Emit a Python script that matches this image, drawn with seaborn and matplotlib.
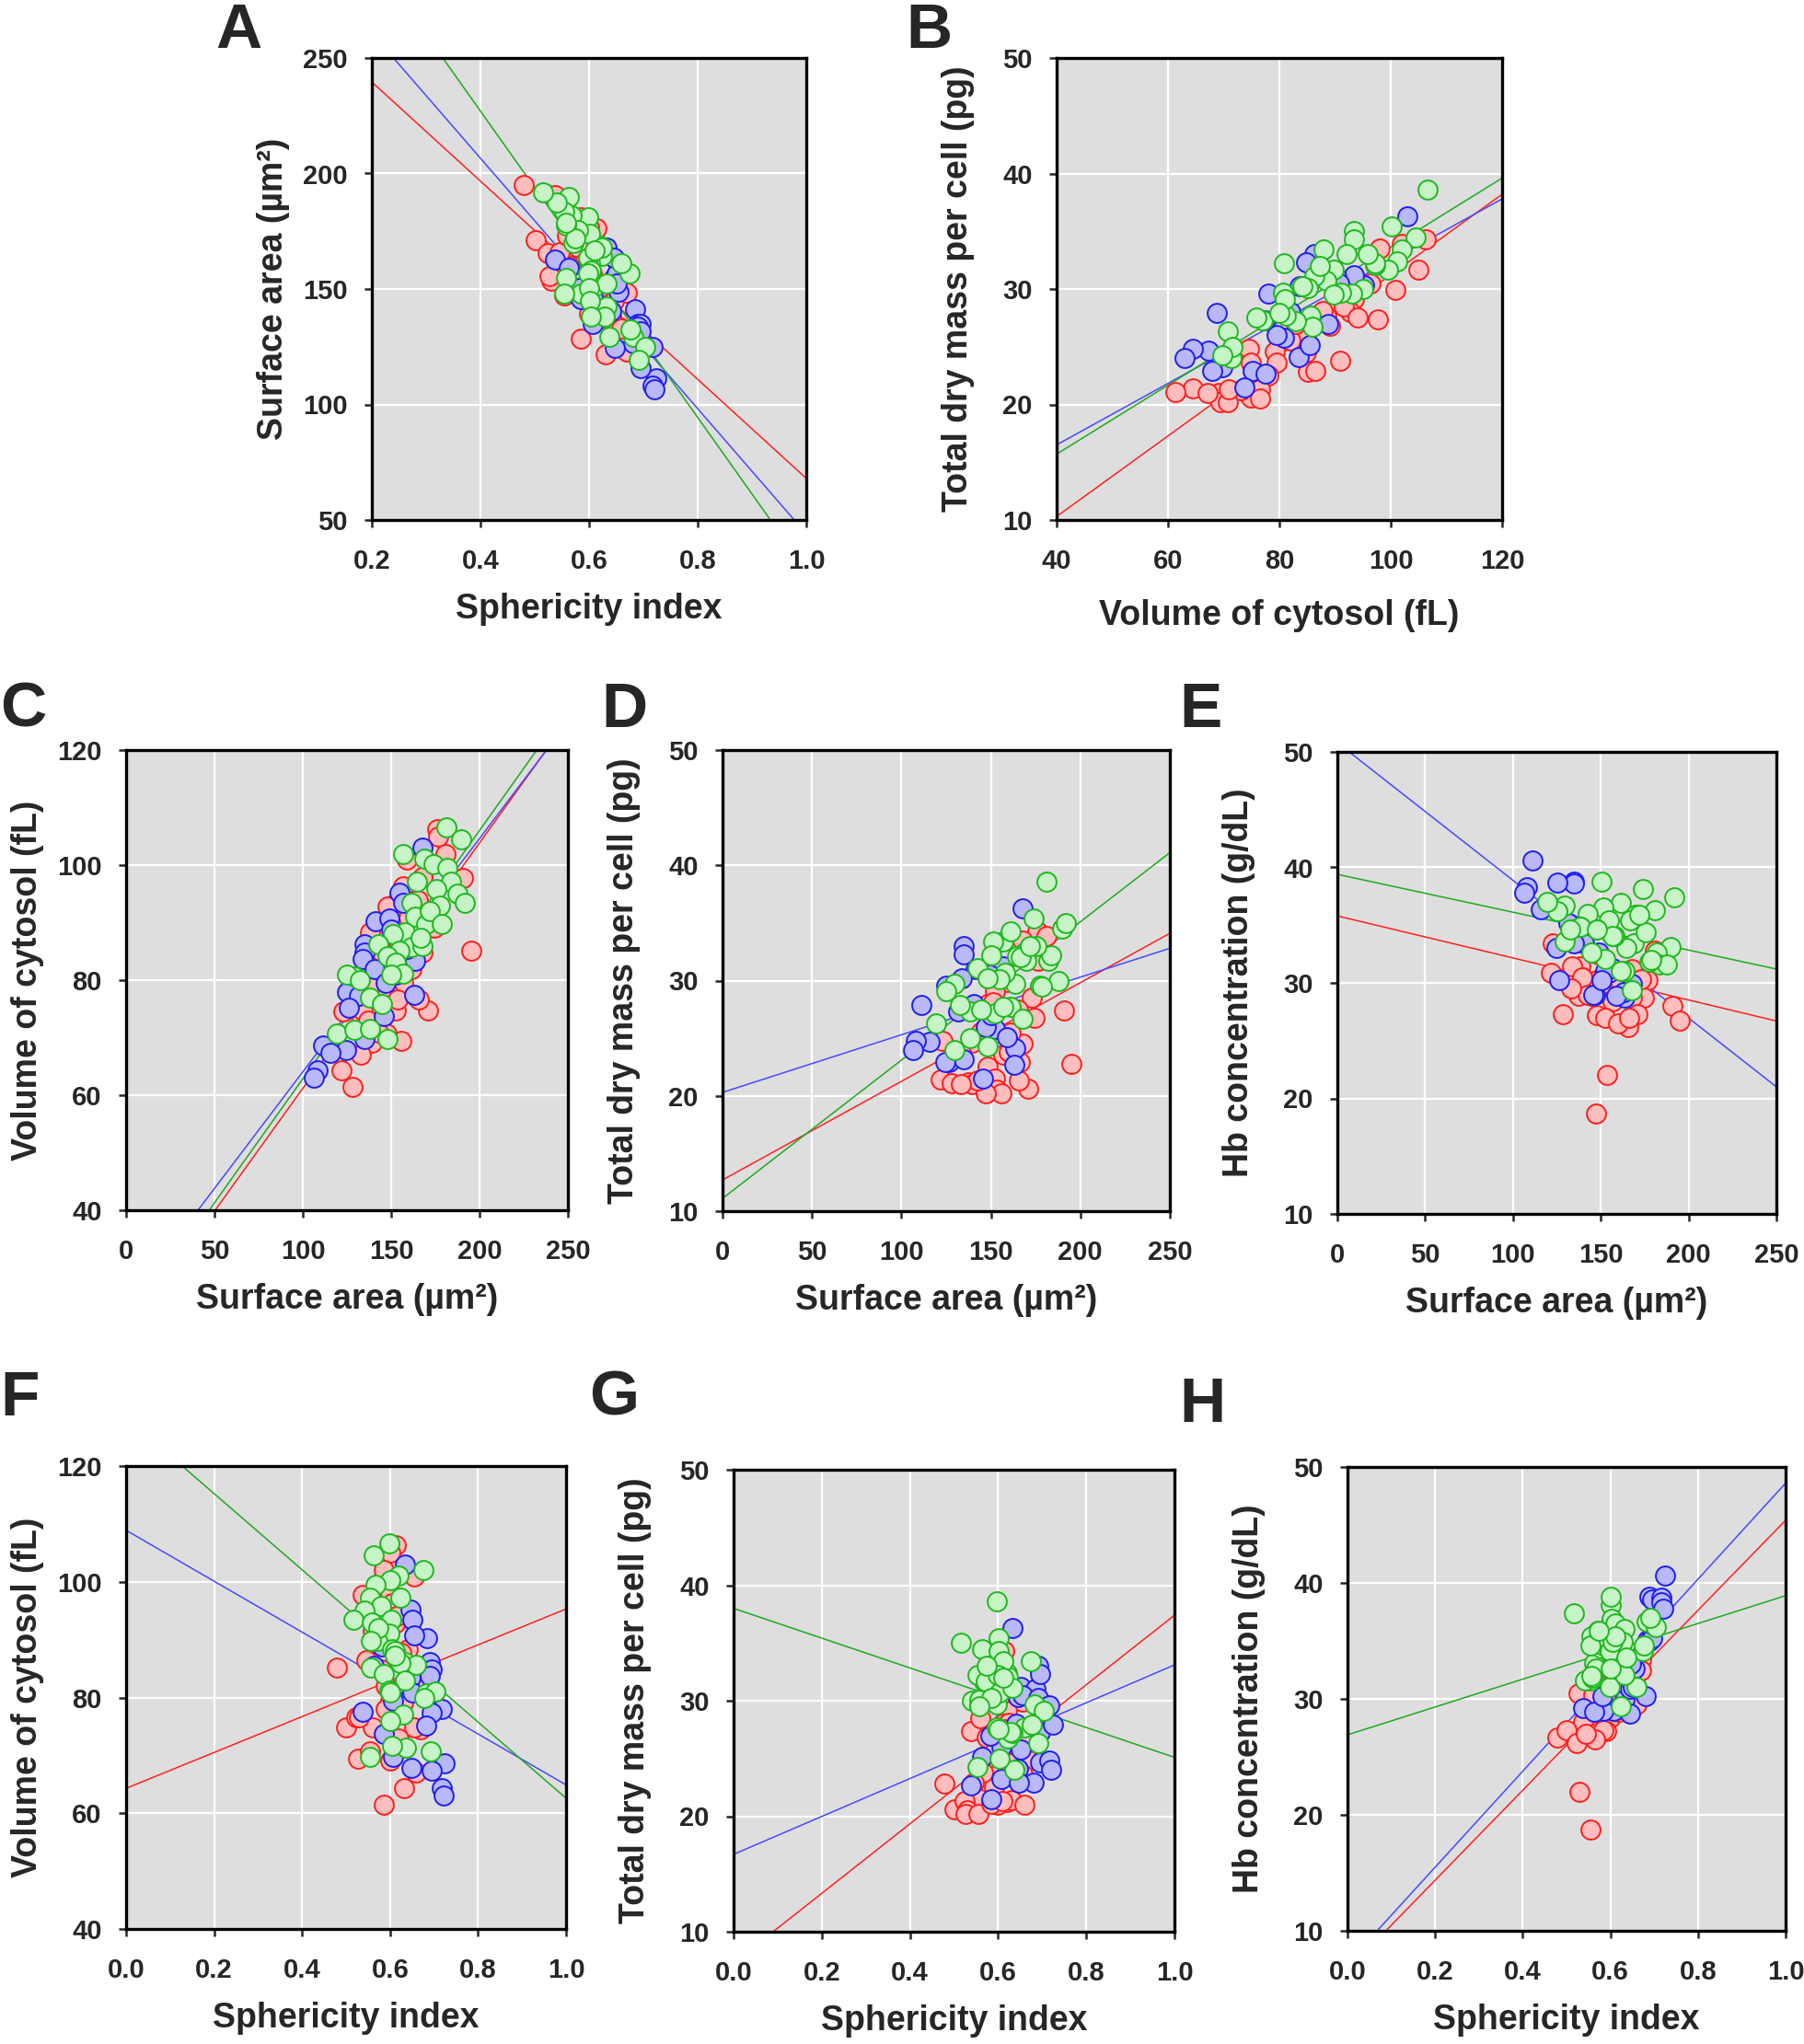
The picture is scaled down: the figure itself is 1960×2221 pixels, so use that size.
import numpy as np
import pandas as pd
import matplotlib
matplotlib.use("Agg")
import matplotlib.pyplot as plt
import seaborn as sns

# ---------------- data ----------------
# Red group: per cell values
RED_S  = [0.613, 0.600, 0.655, 0.585, 0.538, 0.600, 0.620, 0.610, 0.605, 0.575,
          0.640, 0.625, 0.645, 0.479, 0.580, 0.630, 0.600, 0.590, 0.670, 0.655,
          0.560, 0.501, 0.523, 0.530, 0.620, 0.600, 0.527, 0.555, 0.631, 0.585,
          0.610, 0.590, 0.670, 0.565, 0.545, 0.660, 0.560, 0.615]
RED_SA = [176.1, 176.5, 159.0, 180.9, 190.8, 167.8, 152.4, 148.0, 156.8, 174.3,
          138.2, 151.3, 144.7, 195.2, 167.8, 139.3, 156.8, 148.0, 122.8, 133.8,
          152.4, 171.0, 165.6, 153.5, 137.1, 139.3, 155.7, 147.3, 121.7, 128.3,
          142.5, 161.2, 148.5, 160.0, 166.0, 133.0, 173.0, 165.0]
RED_V  = [106.3, 105.0, 100.9, 102.0, 97.7, 98.0, 93.4, 92.8, 96.3, 89.1,
          88.4, 87.7, 84.8, 85.2, 84.8, 79.1, 79.5, 78.0, 74.5, 74.8,
          74.8, 74.8, 76.6, 76.6, 73.0, 69.1, 69.5, 70.7, 64.4, 61.4,
          70.9, 82.0, 83.0, 90.9, 86.5, 67.1, 91.5, 94.0]
RED_M  = [34.3, 31.7, 29.9, 33.9, 27.4, 33.5, 29.1, 28.0, 30.5, 26.8,
          27.6, 28.1, 25.6, 22.8, 24.5, 24.6, 23.6, 22.5, 24.8, 23.6,
          21.5, 20.6, 21.3, 20.5, 21.2, 21.0, 20.2, 20.2, 21.4, 21.1,
          21.3, 25.5, 27.0, 23.8, 22.9, 21.0, 28.5, 27.5]
RED_HB = [31.0, 30.2, 29.6, 32.8, 28.0, 31.2, 30.0, 30.2, 31.2, 28.7,
          31.4, 30.5, 28.9, 26.7, 28.7, 30.5, 28.4, 27.2, 33.4, 31.4,
          27.0, 27.3, 26.2, 22.0, 28.9, 30.5, 30.5, 18.7, 30.9, 27.3,
          29.0, 30.0, 32.5, 26.5, 27.0, 29.5, 30.3, 29.2]

# Blue group
BLUE_S  = [0.633, 0.646, 0.651, 0.684, 0.655, 0.690, 0.695, 0.690, 0.640, 0.646,
           0.651, 0.607, 0.717, 0.695, 0.681, 0.538, 0.585, 0.607, 0.724, 0.648,
           0.695, 0.717, 0.721, 0.563, 0.582]
BLUE_SA = [167.8, 154.6, 156.8, 141.4, 149.0, 134.9, 134.9, 133.8, 140.4, 163.4,
           152.4, 146.9, 125.0, 131.6, 126.3, 162.9, 145.8, 134.9, 111.2, 124.6,
           115.6, 108.1, 106.4, 159.0, 150.2]
BLUE_V  = [103.0, 95.2, 93.4, 90.2, 90.7, 86.2, 84.8, 83.7, 82.0, 83.4,
           80.9, 79.5, 78.0, 77.3, 75.2, 77.5, 73.7, 69.8, 68.7, 67.9,
           67.3, 64.4, 63.0, 85.5, 88.8]
BLUE_M  = [36.3, 30.3, 31.2, 31.0, 30.5, 33.0, 32.3, 30.2, 28.0, 24.1,
           25.8, 26.0, 29.6, 27.3, 22.9, 22.7, 21.5, 23.2, 27.9, 22.9,
           24.7, 24.8, 24.0, 25.1, 27.0]
BLUE_HB = [29.9, 30.9, 31.3, 35.1, 32.6, 38.8, 38.6, 35.0, 33.4, 28.7,
           31.0, 29.0, 38.7, 35.2, 30.2, 29.2, 29.0, 33.4, 40.6, 33.0,
           36.4, 38.3, 37.8, 28.9, 30.2]

# Green group
GREEN_S  = [0.598, 0.563, 0.675, 0.620, 0.601, 0.567, 0.623, 0.554, 0.580, 0.541,
            0.516, 0.558, 0.602, 0.598, 0.572, 0.604, 0.611, 0.633, 0.660, 0.623,
            0.557, 0.585, 0.633, 0.598, 0.600, 0.682, 0.703, 0.629, 0.601, 0.692,
            0.637, 0.604, 0.554, 0.611, 0.574, 0.557, 0.677]
GREEN_SA = [181.0, 189.7, 156.8, 168.9, 173.9, 182.0, 164.5, 183.6, 175.4, 187.5,
            191.9, 177.6, 161.2, 163.4, 170.0, 158.0, 151.3, 142.5, 161.2, 167.8,
            154.6, 148.0, 152.4, 156.8, 150.2, 129.4, 125.0, 138.2, 144.7, 119.5,
            129.4, 138.2, 148.0, 166.7, 172.0, 178.7, 132.5]
GREEN_V  = [106.6, 104.5, 102.0, 101.1, 100.2, 99.5, 97.2, 97.2, 95.9, 95.0,
            93.4, 93.0, 93.4, 91.0, 89.8, 88.4, 88.0, 86.2, 85.7, 85.9,
            85.2, 84.1, 83.0, 81.2, 80.9, 80.7, 81.0, 77.0, 75.9, 70.7,
            71.4, 71.6, 69.8, 87.3, 92.0, 89.8, 80.0]
GREEN_M  = [38.6, 34.5, 33.4, 32.4, 35.4, 31.7, 32.1, 32.2, 33.0, 30.0,
            35.0, 29.6, 34.3, 29.7, 31.7, 30.7, 33.4, 31.1, 27.7, 26.7,
            30.1, 30.2, 27.2, 27.7, 32.2, 29.7, 29.1, 27.3, 27.5, 26.3,
            24.0, 25.0, 24.3, 32.0, 33.0, 29.5, 27.9]
GREEN_HB = [36.3, 33.1, 34.1, 33.4, 38.1, 32.6, 33.0, 31.6, 34.4, 31.6,
            37.4, 31.8, 36.9, 31.0, 35.9, 34.1, 36.5, 36.0, 31.0, 29.4,
            35.4, 34.6, 32.1, 34.1, 38.8, 36.7, 36.2, 34.9, 32.6, 37.0,
            33.6, 34.9, 34.6, 35.4, 35.9, 32.0, 34.6]

# regression lines: value at the left and right x-limits, per panel, order red, blue, green
LINE_A = [[239.6, 68.0], [260.8, 44.0], [293.3, 28.1]]
LINE_B = [[10.3, 38.2], [16.5, 37.8], [15.7, 39.6]]
LINE_C = [[18.5, 125.2], [23.5, 124.9], [19.7, 127.6]]
LINE_D = [[12.7, 34.1], [20.3, 32.8], [11.1, 41.1]]
LINE_E = [[35.8, 26.7], [50.8, 21.0], [39.4, 31.2]]
LINE_F = [[64.3, 95.3], [108.9, 64.9], [128.4, 62.6]]
LINE_G = [[7.3, 37.4], [16.7, 33.1], [38.0, 25.1]]
LINE_H = [[6.6, 45.4], [7.2, 48.6], [26.9, 38.9]]

LBL_SPH = "Sphericity index"
LBL_SA = "Surface area (µm²)"
LBL_V = "Volume of cytosol (fL)"
LBL_M = "Total dry mass per cell (pg)"
LBL_HB = "Hb concentration (g/dL)"

# ---------------- assemble ----------------
groups = ["red", "blue", "green"]
frames = []
for g, S, SA, V, M, HB in [("red", RED_S, RED_SA, RED_V, RED_M, RED_HB),
                           ("blue", BLUE_S, BLUE_SA, BLUE_V, BLUE_M, BLUE_HB),
                           ("green", GREEN_S, GREEN_SA, GREEN_V, GREEN_M, GREEN_HB)]:
    frames.append(pd.DataFrame({"grp": g, "S": S, "SA": SA, "V": V, "M": M, "HB": HB}))
df = pd.concat(frames, ignore_index=True)

FACE = {"red": "#FFBDBD", "blue": "#B8B8FA", "green": "#C6F4C6"}
EDGE = {"red": "#FF1E1E", "blue": "#1E1EF0", "green": "#1EB81E"}
LINEC = {"red": "#FF2020", "blue": "#4848FF", "green": "#20A820"}

sns.set_style("ticks")
plt.rcParams["font.family"] = ["Liberation Sans", "DejaVu Sans"]
plt.rcParams["font.weight"] = "bold"
plt.rcParams["axes.labelweight"] = "bold"

W, H = 1960, 2221
fig = plt.figure(figsize=(W / 100, H / 100), dpi=100)

def rect(l, r, t, b):
    return [l / W, 1 - b / H, (r - l) / W, (b - t) / H]

panels = [
    ("A", "S", "SA", (0.2, 1.0), [0.2, 0.4, 0.6, 0.8, 1.0], (50, 250), [50, 100, 150, 200, 250],
     LBL_SPH, LBL_SA, (404, 876, 63, 565), LINE_A, (234, 2)),
    ("B", "V", "M", (40, 120), [40, 60, 80, 100, 120], (10, 50), [10, 20, 30, 40, 50],
     LBL_V, LBL_M, (1148, 1632, 63, 565), LINE_B, (984, 2)),
    ("C", "SA", "V", (0, 250), [0, 50, 100, 150, 200, 250], (40, 120), [40, 60, 80, 100, 120],
     LBL_SA, LBL_V, (137, 617, 815, 1315), LINE_C, (0, 740)),
    ("D", "SA", "M", (0, 250), [0, 50, 100, 150, 200, 250], (10, 50), [10, 20, 30, 40, 50],
     LBL_SA, LBL_M, (785, 1271, 815, 1316), LINE_D, (653, 740)),
    ("E", "SA", "HB", (0, 250), [0, 50, 100, 150, 200, 250], (10, 50), [10, 20, 30, 40, 50],
     LBL_SA, LBL_HB, (1453, 1930, 817, 1319), LINE_E, (1281, 740)),
    ("F", "S", "V", (0.0, 1.0), [0.0, 0.2, 0.4, 0.6, 0.8, 1.0], (40, 120), [40, 60, 80, 100, 120],
     LBL_SPH, LBL_V, (137, 615, 1593, 2096), LINE_F, (0, 1488)),
    ("G", "S", "M", (0.0, 1.0), [0.0, 0.2, 0.4, 0.6, 0.8, 1.0], (10, 50), [10, 20, 30, 40, 50],
     LBL_SPH, LBL_M, (797, 1276, 1597, 2099), LINE_G, (640, 1488)),
    ("H", "S", "HB", (0.0, 1.0), [0.0, 0.2, 0.4, 0.6, 0.8, 1.0], (10, 50), [10, 20, 30, 40, 50],
     LBL_SPH, LBL_HB, (1464, 1940, 1594, 2098), LINE_H, (1281, 1495)),
]

for (letter, xc, yc, xlim, xticks, ylim, yticks, xlabel, ylabel, px, lines, lpos) in panels:
    l, r, t, b = px
    ax = fig.add_axes(rect(l, r, t, b))
    ax.set_facecolor("#DEDEDE")
    ax.set_axisbelow(True)
    ax.grid(True, color="white", linewidth=1.6)

    for g, (y0, y1) in zip(groups, lines):
        sns.lineplot(x=[xlim[0], xlim[1]], y=[y0, y1], ax=ax, color=LINEC[g],
                     linewidth=1.1, zorder=2, sort=False)
    for g in groups:
        sub = df[df["grp"] == g]
        sns.scatterplot(data=sub, x=xc, y=yc, ax=ax, color=FACE[g], edgecolor=EDGE[g],
                        s=225, linewidth=1.4, zorder=3, legend=False)

    ax.set_xlim(*xlim)
    ax.set_ylim(*ylim)
    ax.set_xticks(xticks)
    ax.set_yticks(yticks)
    if isinstance(xticks[0], float):
        ax.set_xticklabels([f"{v:.1f}" for v in xticks])
    else:
        ax.set_xticklabels([str(v) for v in xticks])
    ax.set_yticklabels([str(v) for v in yticks])
    ax.tick_params(axis="both", direction="out", length=6, width=1.8,
                   labelsize=21, top=False, right=False)
    ax.tick_params(axis="x", pad=16)
    ax.tick_params(axis="y", pad=13)
    for sp in ax.spines.values():
        sp.set_linewidth(2.4)
        sp.set_color("black")
    ax.set_xlabel(xlabel, fontsize=27, fontweight="bold")
    ax.set_ylabel(ylabel, fontsize=27, fontweight="bold")
    hpx = b - t
    wpx = r - l
    xoff = 101 if letter == "B" else 94
    ax.xaxis.set_label_coords(0.5, -(xoff - 15) / hpx)
    ax.yaxis.set_label_coords(-(110 - 21) / wpx, 0.5)
    fig.text(lpos[0] / W, 1 - lpos[1] / H, letter, fontsize=50, fontweight="bold",
             ha="left", va="top")

fig.savefig("out.png", dpi=100)
